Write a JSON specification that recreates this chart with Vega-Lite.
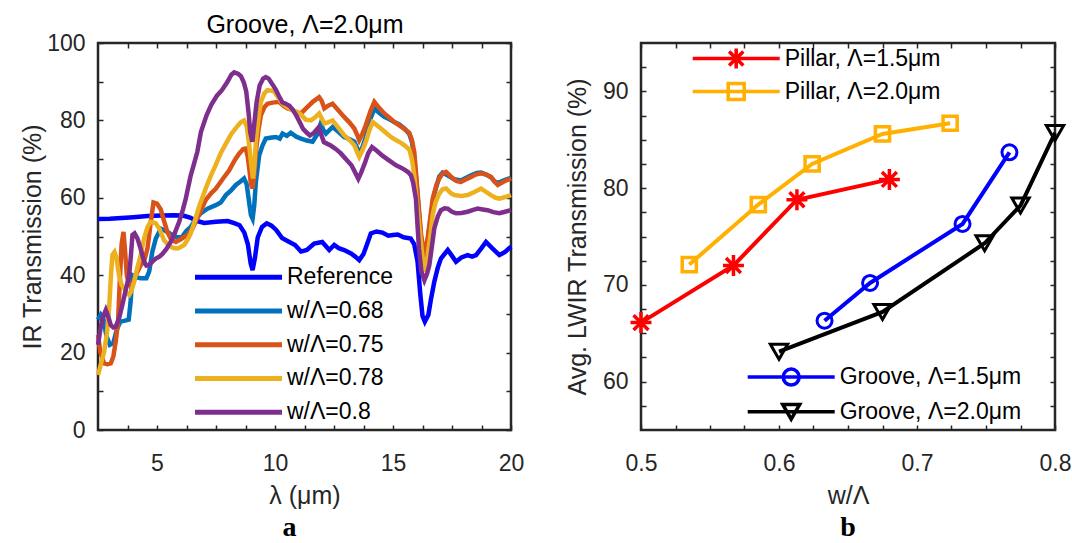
{
  "$schema": "https://vega.github.io/schema/vega-lite/v6.json",
  "padding": {"left": 19, "top": 11, "right": 5, "bottom": 5},
  "background": "white",
  "datasets": {
    "spectra": [
      {"x":2.5,"y":54.5,"s":"Reference"},{"x":3.0,"y":54.6,"s":"Reference"},{"x":3.5,"y":54.8,"s":"Reference"},{"x":4.0,"y":55.0,"s":"Reference"},{"x":4.6,"y":55.3,"s":"Reference"},{"x":5.2,"y":55.4,"s":"Reference"},{"x":5.7,"y":55.5,"s":"Reference"},{"x":6.1,"y":55.4,"s":"Reference"},{"x":6.4,"y":54.9,"s":"Reference"},{"x":6.7,"y":54.0,"s":"Reference"},{"x":7.0,"y":53.5,"s":"Reference"},{"x":7.5,"y":53.8,"s":"Reference"},{"x":8.0,"y":54.0,"s":"Reference"},{"x":8.3,"y":53.4,"s":"Reference"},{"x":8.5,"y":52.9,"s":"Reference"},{"x":8.7,"y":51.0,"s":"Reference"},{"x":8.85,"y":48.0,"s":"Reference"},{"x":8.97,"y":43.0,"s":"Reference"},{"x":9.05,"y":41.3,"s":"Reference"},{"x":9.15,"y":44.5,"s":"Reference"},{"x":9.27,"y":49.8,"s":"Reference"},{"x":9.45,"y":52.5,"s":"Reference"},{"x":9.65,"y":53.4,"s":"Reference"},{"x":9.85,"y":52.8,"s":"Reference"},{"x":10.05,"y":51.7,"s":"Reference"},{"x":10.3,"y":49.6,"s":"Reference"},{"x":10.55,"y":48.8,"s":"Reference"},{"x":10.85,"y":47.8,"s":"Reference"},{"x":11.1,"y":46.1,"s":"Reference"},{"x":11.35,"y":46.5,"s":"Reference"},{"x":11.66,"y":48.2,"s":"Reference"},{"x":12.0,"y":48.6,"s":"Reference"},{"x":12.3,"y":46.5,"s":"Reference"},{"x":12.51,"y":47.8,"s":"Reference"},{"x":12.7,"y":47.0,"s":"Reference"},{"x":12.93,"y":46.5,"s":"Reference"},{"x":13.22,"y":45.6,"s":"Reference"},{"x":13.4,"y":44.8,"s":"Reference"},{"x":13.57,"y":43.9,"s":"Reference"},{"x":13.75,"y":45.5,"s":"Reference"},{"x":13.9,"y":48.0,"s":"Reference"},{"x":14.06,"y":50.8,"s":"Reference"},{"x":14.3,"y":51.3,"s":"Reference"},{"x":14.55,"y":51.0,"s":"Reference"},{"x":14.8,"y":50.2,"s":"Reference"},{"x":15.0,"y":50.4,"s":"Reference"},{"x":15.2,"y":50.5,"s":"Reference"},{"x":15.45,"y":49.8,"s":"Reference"},{"x":15.75,"y":49.5,"s":"Reference"},{"x":15.9,"y":48.0,"s":"Reference"},{"x":16.04,"y":43.5,"s":"Reference"},{"x":16.16,"y":34.9,"s":"Reference"},{"x":16.25,"y":29.5,"s":"Reference"},{"x":16.35,"y":28.0,"s":"Reference"},{"x":16.5,"y":29.8,"s":"Reference"},{"x":16.6,"y":33.5,"s":"Reference"},{"x":16.75,"y":38.3,"s":"Reference"},{"x":16.9,"y":42.0,"s":"Reference"},{"x":17.03,"y":44.3,"s":"Reference"},{"x":17.32,"y":46.5,"s":"Reference"},{"x":17.5,"y":45.0,"s":"Reference"},{"x":17.67,"y":43.5,"s":"Reference"},{"x":17.9,"y":44.6,"s":"Reference"},{"x":18.16,"y":45.2,"s":"Reference"},{"x":18.35,"y":44.8,"s":"Reference"},{"x":18.52,"y":45.2,"s":"Reference"},{"x":18.75,"y":47.0,"s":"Reference"},{"x":18.94,"y":48.6,"s":"Reference"},{"x":19.2,"y":47.0,"s":"Reference"},{"x":19.51,"y":45.2,"s":"Reference"},{"x":19.75,"y":46.0,"s":"Reference"},{"x":20.0,"y":47.4,"s":"Reference"},

      {"x":2.5,"y":28.5,"s":"w/Λ=0.68"},{"x":2.62,"y":29.8,"s":"w/Λ=0.68"},{"x":2.72,"y":29.0,"s":"w/Λ=0.68"},{"x":2.85,"y":24.5,"s":"w/Λ=0.68"},{"x":3.0,"y":22.0,"s":"w/Λ=0.68"},{"x":3.15,"y":22.5,"s":"w/Λ=0.68"},{"x":3.3,"y":26.0,"s":"w/Λ=0.68"},{"x":3.45,"y":28.0,"s":"w/Λ=0.68"},{"x":3.6,"y":28.2,"s":"w/Λ=0.68"},{"x":3.8,"y":28.5,"s":"w/Λ=0.68"},{"x":3.88,"y":33.0,"s":"w/Λ=0.68"},{"x":3.96,"y":40.0,"s":"w/Λ=0.68"},{"x":4.1,"y":39.5,"s":"w/Λ=0.68"},{"x":4.3,"y":39.2,"s":"w/Λ=0.68"},{"x":4.55,"y":39.2,"s":"w/Λ=0.68"},{"x":4.67,"y":41.0,"s":"w/Λ=0.68"},{"x":4.8,"y":46.0,"s":"w/Λ=0.68"},{"x":4.95,"y":49.5,"s":"w/Λ=0.68"},{"x":5.16,"y":52.0,"s":"w/Λ=0.68"},{"x":5.35,"y":51.5,"s":"w/Λ=0.68"},{"x":5.6,"y":50.6,"s":"w/Λ=0.68"},{"x":5.85,"y":49.8,"s":"w/Λ=0.68"},{"x":6.05,"y":49.8,"s":"w/Λ=0.68"},{"x":6.25,"y":51.5,"s":"w/Λ=0.68"},{"x":6.43,"y":52.5,"s":"w/Λ=0.68"},{"x":6.65,"y":54.5,"s":"w/Λ=0.68"},{"x":6.85,"y":56.0,"s":"w/Λ=0.68"},{"x":7.14,"y":57.2,"s":"w/Λ=0.68"},{"x":7.49,"y":58.1,"s":"w/Λ=0.68"},{"x":7.7,"y":58.8,"s":"w/Λ=0.68"},{"x":7.92,"y":60.7,"s":"w/Λ=0.68"},{"x":8.15,"y":62.0,"s":"w/Λ=0.68"},{"x":8.34,"y":63.3,"s":"w/Λ=0.68"},{"x":8.54,"y":64.2,"s":"w/Λ=0.68"},{"x":8.69,"y":65.0,"s":"w/Λ=0.68"},{"x":8.8,"y":63.5,"s":"w/Λ=0.68"},{"x":8.9,"y":59.0,"s":"w/Λ=0.68"},{"x":8.98,"y":55.5,"s":"w/Λ=0.68"},{"x":9.05,"y":54.6,"s":"w/Λ=0.68"},{"x":9.12,"y":58.0,"s":"w/Λ=0.68"},{"x":9.19,"y":64.1,"s":"w/Λ=0.68"},{"x":9.33,"y":71.0,"s":"w/Λ=0.68"},{"x":9.47,"y":73.5,"s":"w/Λ=0.68"},{"x":9.61,"y":75.3,"s":"w/Λ=0.68"},{"x":9.8,"y":75.5,"s":"w/Λ=0.68"},{"x":10.04,"y":75.7,"s":"w/Λ=0.68"},{"x":10.2,"y":75.3,"s":"w/Λ=0.68"},{"x":10.32,"y":76.6,"s":"w/Λ=0.68"},{"x":10.5,"y":76.0,"s":"w/Λ=0.68"},{"x":10.67,"y":76.8,"s":"w/Λ=0.68"},{"x":10.9,"y":75.8,"s":"w/Λ=0.68"},{"x":11.1,"y":75.3,"s":"w/Λ=0.68"},{"x":11.35,"y":74.8,"s":"w/Λ=0.68"},{"x":11.59,"y":74.5,"s":"w/Λ=0.68"},{"x":11.8,"y":76.5,"s":"w/Λ=0.68"},{"x":11.94,"y":79.2,"s":"w/Λ=0.68"},{"x":12.05,"y":77.5,"s":"w/Λ=0.68"},{"x":12.16,"y":76.6,"s":"w/Λ=0.68"},{"x":12.44,"y":78.3,"s":"w/Λ=0.68"},{"x":12.7,"y":77.0,"s":"w/Λ=0.68"},{"x":12.93,"y":75.7,"s":"w/Λ=0.68"},{"x":13.15,"y":75.2,"s":"w/Λ=0.68"},{"x":13.36,"y":74.5,"s":"w/Λ=0.68"},{"x":13.5,"y":72.5,"s":"w/Λ=0.68"},{"x":13.57,"y":71.4,"s":"w/Λ=0.68"},{"x":13.7,"y":73.0,"s":"w/Λ=0.68"},{"x":13.85,"y":75.7,"s":"w/Λ=0.68"},{"x":14.05,"y":80.5,"s":"w/Λ=0.68"},{"x":14.21,"y":83.1,"s":"w/Λ=0.68"},{"x":14.4,"y":82.0,"s":"w/Λ=0.68"},{"x":14.63,"y":80.9,"s":"w/Λ=0.68"},{"x":14.85,"y":80.3,"s":"w/Λ=0.68"},{"x":15.05,"y":79.6,"s":"w/Λ=0.68"},{"x":15.25,"y":79.0,"s":"w/Λ=0.68"},{"x":15.48,"y":77.9,"s":"w/Λ=0.68"},{"x":15.69,"y":76.5,"s":"w/Λ=0.68"},{"x":15.8,"y":74.5,"s":"w/Λ=0.68"},{"x":15.9,"y":70.5,"s":"w/Λ=0.68"},{"x":16.04,"y":60.5,"s":"w/Λ=0.68"},{"x":16.19,"y":49.5,"s":"w/Λ=0.68"},{"x":16.33,"y":44.3,"s":"w/Λ=0.68"},{"x":16.47,"y":49.0,"s":"w/Λ=0.68"},{"x":16.6,"y":55.0,"s":"w/Λ=0.68"},{"x":16.75,"y":61.0,"s":"w/Λ=0.68"},{"x":16.96,"y":65.5,"s":"w/Λ=0.68"},{"x":17.1,"y":66.5,"s":"w/Λ=0.68"},{"x":17.25,"y":66.0,"s":"w/Λ=0.68"},{"x":17.45,"y":65.3,"s":"w/Λ=0.68"},{"x":17.6,"y":64.8,"s":"w/Λ=0.68"},{"x":17.88,"y":64.5,"s":"w/Λ=0.68"},{"x":18.1,"y":65.2,"s":"w/Λ=0.68"},{"x":18.31,"y":65.8,"s":"w/Λ=0.68"},{"x":18.55,"y":66.4,"s":"w/Λ=0.68"},{"x":18.73,"y":66.5,"s":"w/Λ=0.68"},{"x":18.95,"y":66.0,"s":"w/Λ=0.68"},{"x":19.15,"y":65.3,"s":"w/Λ=0.68"},{"x":19.3,"y":64.3,"s":"w/Λ=0.68"},{"x":19.44,"y":63.8,"s":"w/Λ=0.68"},{"x":19.7,"y":64.5,"s":"w/Λ=0.68"},{"x":20.0,"y":65.2,"s":"w/Λ=0.68"},

      {"x":2.5,"y":24.6,"s":"w/Λ=0.75"},{"x":2.6,"y":20.0,"s":"w/Λ=0.75"},{"x":2.76,"y":17.2,"s":"w/Λ=0.75"},{"x":2.9,"y":17.0,"s":"w/Λ=0.75"},{"x":3.04,"y":17.2,"s":"w/Λ=0.75"},{"x":3.15,"y":19.0,"s":"w/Λ=0.75"},{"x":3.25,"y":22.8,"s":"w/Λ=0.75"},{"x":3.35,"y":28.0,"s":"w/Λ=0.75"},{"x":3.42,"y":38.0,"s":"w/Λ=0.75"},{"x":3.5,"y":48.0,"s":"w/Λ=0.75"},{"x":3.58,"y":51.2,"s":"w/Λ=0.75"},{"x":3.65,"y":46.0,"s":"w/Λ=0.75"},{"x":3.72,"y":40.0,"s":"w/Λ=0.75"},{"x":3.82,"y":37.5,"s":"w/Λ=0.75"},{"x":3.95,"y":37.0,"s":"w/Λ=0.75"},{"x":4.1,"y":40.0,"s":"w/Λ=0.75"},{"x":4.3,"y":42.5,"s":"w/Λ=0.75"},{"x":4.45,"y":43.5,"s":"w/Λ=0.75"},{"x":4.6,"y":47.0,"s":"w/Λ=0.75"},{"x":4.72,"y":53.0,"s":"w/Λ=0.75"},{"x":4.85,"y":58.8,"s":"w/Λ=0.75"},{"x":5.0,"y":58.5,"s":"w/Λ=0.75"},{"x":5.16,"y":57.0,"s":"w/Λ=0.75"},{"x":5.3,"y":54.0,"s":"w/Λ=0.75"},{"x":5.44,"y":51.2,"s":"w/Λ=0.75"},{"x":5.6,"y":49.2,"s":"w/Λ=0.75"},{"x":5.8,"y":48.6,"s":"w/Λ=0.75"},{"x":6.0,"y":49.3,"s":"w/Λ=0.75"},{"x":6.29,"y":50.4,"s":"w/Λ=0.75"},{"x":6.5,"y":52.0,"s":"w/Λ=0.75"},{"x":6.8,"y":56.0,"s":"w/Λ=0.75"},{"x":7.07,"y":59.5,"s":"w/Λ=0.75"},{"x":7.3,"y":61.2,"s":"w/Λ=0.75"},{"x":7.49,"y":62.3,"s":"w/Λ=0.75"},{"x":7.8,"y":65.0,"s":"w/Λ=0.75"},{"x":8.06,"y":67.1,"s":"w/Λ=0.75"},{"x":8.3,"y":69.8,"s":"w/Λ=0.75"},{"x":8.48,"y":71.4,"s":"w/Λ=0.75"},{"x":8.65,"y":72.6,"s":"w/Λ=0.75"},{"x":8.76,"y":72.7,"s":"w/Λ=0.75"},{"x":8.85,"y":70.5,"s":"w/Λ=0.75"},{"x":8.92,"y":67.0,"s":"w/Λ=0.75"},{"x":8.98,"y":63.5,"s":"w/Λ=0.75"},{"x":9.05,"y":62.4,"s":"w/Λ=0.75"},{"x":9.12,"y":66.0,"s":"w/Λ=0.75"},{"x":9.19,"y":71.9,"s":"w/Λ=0.75"},{"x":9.3,"y":77.5,"s":"w/Λ=0.75"},{"x":9.4,"y":81.3,"s":"w/Λ=0.75"},{"x":9.55,"y":83.4,"s":"w/Λ=0.75"},{"x":9.68,"y":84.3,"s":"w/Λ=0.75"},{"x":9.9,"y":84.6,"s":"w/Λ=0.75"},{"x":10.18,"y":84.8,"s":"w/Λ=0.75"},{"x":10.35,"y":83.8,"s":"w/Λ=0.75"},{"x":10.53,"y":83.1,"s":"w/Λ=0.75"},{"x":10.7,"y":82.8,"s":"w/Λ=0.75"},{"x":10.88,"y":82.2,"s":"w/Λ=0.75"},{"x":11.1,"y":81.8,"s":"w/Λ=0.75"},{"x":11.38,"y":83.5,"s":"w/Λ=0.75"},{"x":11.6,"y":84.8,"s":"w/Λ=0.75"},{"x":11.87,"y":86.0,"s":"w/Λ=0.75"},{"x":11.98,"y":85.0,"s":"w/Λ=0.75"},{"x":12.09,"y":83.1,"s":"w/Λ=0.75"},{"x":12.25,"y":83.8,"s":"w/Λ=0.75"},{"x":12.44,"y":84.3,"s":"w/Λ=0.75"},{"x":12.7,"y":82.5,"s":"w/Λ=0.75"},{"x":12.93,"y":80.9,"s":"w/Λ=0.75"},{"x":13.15,"y":79.5,"s":"w/Λ=0.75"},{"x":13.36,"y":77.9,"s":"w/Λ=0.75"},{"x":13.5,"y":76.0,"s":"w/Λ=0.75"},{"x":13.57,"y":74.9,"s":"w/Λ=0.75"},{"x":13.7,"y":76.5,"s":"w/Λ=0.75"},{"x":13.85,"y":78.8,"s":"w/Λ=0.75"},{"x":14.05,"y":82.5,"s":"w/Λ=0.75"},{"x":14.21,"y":84.8,"s":"w/Λ=0.75"},{"x":14.4,"y":83.3,"s":"w/Λ=0.75"},{"x":14.63,"y":81.8,"s":"w/Λ=0.75"},{"x":14.85,"y":80.7,"s":"w/Λ=0.75"},{"x":15.05,"y":79.6,"s":"w/Λ=0.75"},{"x":15.25,"y":78.8,"s":"w/Λ=0.75"},{"x":15.48,"y":77.8,"s":"w/Λ=0.75"},{"x":15.69,"y":76.8,"s":"w/Λ=0.75"},{"x":15.8,"y":75.0,"s":"w/Λ=0.75"},{"x":15.9,"y":71.9,"s":"w/Λ=0.75"},{"x":16.04,"y":61.6,"s":"w/Λ=0.75"},{"x":16.19,"y":50.4,"s":"w/Λ=0.75"},{"x":16.33,"y":45.2,"s":"w/Λ=0.75"},{"x":16.47,"y":49.5,"s":"w/Λ=0.75"},{"x":16.68,"y":59.8,"s":"w/Λ=0.75"},{"x":16.85,"y":63.5,"s":"w/Λ=0.75"},{"x":16.96,"y":65.0,"s":"w/Λ=0.75"},{"x":17.1,"y":66.3,"s":"w/Λ=0.75"},{"x":17.25,"y":66.7,"s":"w/Λ=0.75"},{"x":17.4,"y":65.8,"s":"w/Λ=0.75"},{"x":17.53,"y":65.0,"s":"w/Λ=0.75"},{"x":17.7,"y":64.3,"s":"w/Λ=0.75"},{"x":17.88,"y":64.1,"s":"w/Λ=0.75"},{"x":18.1,"y":64.8,"s":"w/Λ=0.75"},{"x":18.31,"y":65.4,"s":"w/Λ=0.75"},{"x":18.5,"y":66.0,"s":"w/Λ=0.75"},{"x":18.73,"y":66.3,"s":"w/Λ=0.75"},{"x":18.95,"y":66.0,"s":"w/Λ=0.75"},{"x":19.15,"y":65.4,"s":"w/Λ=0.75"},{"x":19.3,"y":64.2,"s":"w/Λ=0.75"},{"x":19.44,"y":63.3,"s":"w/Λ=0.75"},{"x":19.7,"y":64.2,"s":"w/Λ=0.75"},{"x":20.0,"y":65.0,"s":"w/Λ=0.75"},

      {"x":2.5,"y":14.2,"s":"w/Λ=0.78"},{"x":2.62,"y":17.0,"s":"w/Λ=0.78"},{"x":2.76,"y":20.2,"s":"w/Λ=0.78"},{"x":2.88,"y":25.0,"s":"w/Λ=0.78"},{"x":2.97,"y":31.4,"s":"w/Λ=0.78"},{"x":3.05,"y":40.0,"s":"w/Λ=0.78"},{"x":3.11,"y":45.2,"s":"w/Λ=0.78"},{"x":3.2,"y":46.0,"s":"w/Λ=0.78"},{"x":3.28,"y":44.5,"s":"w/Λ=0.78"},{"x":3.39,"y":40.0,"s":"w/Λ=0.78"},{"x":3.5,"y":37.5,"s":"w/Λ=0.78"},{"x":3.6,"y":36.6,"s":"w/Λ=0.78"},{"x":3.75,"y":35.2,"s":"w/Λ=0.78"},{"x":3.82,"y":34.9,"s":"w/Λ=0.78"},{"x":3.92,"y":36.0,"s":"w/Λ=0.78"},{"x":4.03,"y":38.3,"s":"w/Λ=0.78"},{"x":4.17,"y":42.0,"s":"w/Λ=0.78"},{"x":4.31,"y":45.2,"s":"w/Λ=0.78"},{"x":4.45,"y":49.5,"s":"w/Λ=0.78"},{"x":4.6,"y":52.5,"s":"w/Λ=0.78"},{"x":4.73,"y":53.8,"s":"w/Λ=0.78"},{"x":4.87,"y":53.6,"s":"w/Λ=0.78"},{"x":4.95,"y":53.4,"s":"w/Λ=0.78"},{"x":5.1,"y":52.0,"s":"w/Λ=0.78"},{"x":5.3,"y":49.0,"s":"w/Λ=0.78"},{"x":5.51,"y":47.6,"s":"w/Λ=0.78"},{"x":5.7,"y":47.0,"s":"w/Λ=0.78"},{"x":5.87,"y":46.9,"s":"w/Λ=0.78"},{"x":6.0,"y":47.3,"s":"w/Λ=0.78"},{"x":6.15,"y":47.8,"s":"w/Λ=0.78"},{"x":6.3,"y":49.2,"s":"w/Λ=0.78"},{"x":6.43,"y":50.8,"s":"w/Λ=0.78"},{"x":6.6,"y":54.0,"s":"w/Λ=0.78"},{"x":6.8,"y":58.0,"s":"w/Λ=0.78"},{"x":7.07,"y":62.5,"s":"w/Λ=0.78"},{"x":7.3,"y":66.0,"s":"w/Λ=0.78"},{"x":7.49,"y":68.5,"s":"w/Λ=0.78"},{"x":7.7,"y":71.5,"s":"w/Λ=0.78"},{"x":7.92,"y":74.0,"s":"w/Λ=0.78"},{"x":8.15,"y":76.5,"s":"w/Λ=0.78"},{"x":8.34,"y":78.0,"s":"w/Λ=0.78"},{"x":8.55,"y":79.5,"s":"w/Λ=0.78"},{"x":8.69,"y":80.0,"s":"w/Λ=0.78"},{"x":8.8,"y":78.5,"s":"w/Λ=0.78"},{"x":8.9,"y":74.0,"s":"w/Λ=0.78"},{"x":8.98,"y":69.3,"s":"w/Λ=0.78"},{"x":9.07,"y":65.0,"s":"w/Λ=0.78"},{"x":9.13,"y":68.5,"s":"w/Λ=0.78"},{"x":9.19,"y":74.5,"s":"w/Λ=0.78"},{"x":9.3,"y":80.5,"s":"w/Λ=0.78"},{"x":9.4,"y":84.8,"s":"w/Λ=0.78"},{"x":9.55,"y":87.0,"s":"w/Λ=0.78"},{"x":9.68,"y":87.8,"s":"w/Λ=0.78"},{"x":9.85,"y":87.7,"s":"w/Λ=0.78"},{"x":9.97,"y":87.4,"s":"w/Λ=0.78"},{"x":10.15,"y":85.8,"s":"w/Λ=0.78"},{"x":10.32,"y":84.3,"s":"w/Λ=0.78"},{"x":10.5,"y":83.5,"s":"w/Λ=0.78"},{"x":10.74,"y":82.6,"s":"w/Λ=0.78"},{"x":10.9,"y":82.3,"s":"w/Λ=0.78"},{"x":11.1,"y":81.5,"s":"w/Λ=0.78"},{"x":11.3,"y":80.2,"s":"w/Λ=0.78"},{"x":11.52,"y":80.0,"s":"w/Λ=0.78"},{"x":11.7,"y":80.8,"s":"w/Λ=0.78"},{"x":11.87,"y":81.8,"s":"w/Λ=0.78"},{"x":11.98,"y":80.5,"s":"w/Λ=0.78"},{"x":12.09,"y":79.2,"s":"w/Λ=0.78"},{"x":12.25,"y":79.5,"s":"w/Λ=0.78"},{"x":12.44,"y":80.0,"s":"w/Λ=0.78"},{"x":12.7,"y":78.0,"s":"w/Λ=0.78"},{"x":12.93,"y":76.2,"s":"w/Λ=0.78"},{"x":13.15,"y":75.0,"s":"w/Λ=0.78"},{"x":13.36,"y":73.6,"s":"w/Λ=0.78"},{"x":13.5,"y":71.5,"s":"w/Λ=0.78"},{"x":13.57,"y":70.6,"s":"w/Λ=0.78"},{"x":13.7,"y":72.2,"s":"w/Λ=0.78"},{"x":13.85,"y":74.5,"s":"w/Λ=0.78"},{"x":14.0,"y":77.5,"s":"w/Λ=0.78"},{"x":14.14,"y":79.6,"s":"w/Λ=0.78"},{"x":14.3,"y":78.8,"s":"w/Λ=0.78"},{"x":14.49,"y":77.9,"s":"w/Λ=0.78"},{"x":14.7,"y":76.8,"s":"w/Λ=0.78"},{"x":14.91,"y":75.7,"s":"w/Λ=0.78"},{"x":15.1,"y":75.0,"s":"w/Λ=0.78"},{"x":15.34,"y":74.2,"s":"w/Λ=0.78"},{"x":15.5,"y":73.5,"s":"w/Λ=0.78"},{"x":15.69,"y":72.5,"s":"w/Λ=0.78"},{"x":15.8,"y":70.0,"s":"w/Λ=0.78"},{"x":15.9,"y":65.9,"s":"w/Λ=0.78"},{"x":16.07,"y":55.5,"s":"w/Λ=0.78"},{"x":16.2,"y":47.5,"s":"w/Λ=0.78"},{"x":16.33,"y":40.9,"s":"w/Λ=0.78"},{"x":16.47,"y":45.2,"s":"w/Λ=0.78"},{"x":16.6,"y":51.0,"s":"w/Λ=0.78"},{"x":16.68,"y":55.5,"s":"w/Λ=0.78"},{"x":16.8,"y":58.8,"s":"w/Λ=0.78"},{"x":16.96,"y":61.1,"s":"w/Λ=0.78"},{"x":17.1,"y":62.2,"s":"w/Λ=0.78"},{"x":17.25,"y":62.4,"s":"w/Λ=0.78"},{"x":17.45,"y":61.2,"s":"w/Λ=0.78"},{"x":17.6,"y":60.7,"s":"w/Λ=0.78"},{"x":17.9,"y":60.5,"s":"w/Λ=0.78"},{"x":18.16,"y":60.7,"s":"w/Λ=0.78"},{"x":18.45,"y":61.5,"s":"w/Λ=0.78"},{"x":18.73,"y":62.4,"s":"w/Λ=0.78"},{"x":18.95,"y":61.5,"s":"w/Λ=0.78"},{"x":19.15,"y":60.7,"s":"w/Λ=0.78"},{"x":19.35,"y":60.0,"s":"w/Λ=0.78"},{"x":19.51,"y":59.8,"s":"w/Λ=0.78"},{"x":19.75,"y":60.2,"s":"w/Λ=0.78"},{"x":20.0,"y":60.7,"s":"w/Λ=0.78"},

      {"x":2.5,"y":22.0,"s":"w/Λ=0.8"},{"x":2.6,"y":26.0,"s":"w/Λ=0.8"},{"x":2.69,"y":28.9,"s":"w/Λ=0.8"},{"x":2.83,"y":31.0,"s":"w/Λ=0.8"},{"x":2.95,"y":29.0,"s":"w/Λ=0.8"},{"x":3.04,"y":27.1,"s":"w/Λ=0.8"},{"x":3.15,"y":26.5,"s":"w/Λ=0.8"},{"x":3.25,"y":26.7,"s":"w/Λ=0.8"},{"x":3.4,"y":29.0,"s":"w/Λ=0.8"},{"x":3.53,"y":32.3,"s":"w/Λ=0.8"},{"x":3.65,"y":35.5,"s":"w/Λ=0.8"},{"x":3.82,"y":40.0,"s":"w/Λ=0.8"},{"x":3.9,"y":45.5,"s":"w/Λ=0.8"},{"x":3.96,"y":50.4,"s":"w/Λ=0.8"},{"x":4.05,"y":50.8,"s":"w/Λ=0.8"},{"x":4.17,"y":49.5,"s":"w/Λ=0.8"},{"x":4.3,"y":47.0,"s":"w/Λ=0.8"},{"x":4.45,"y":43.5,"s":"w/Λ=0.8"},{"x":4.55,"y":42.5,"s":"w/Λ=0.8"},{"x":4.66,"y":42.6,"s":"w/Λ=0.8"},{"x":4.8,"y":43.5,"s":"w/Λ=0.8"},{"x":4.95,"y":44.3,"s":"w/Λ=0.8"},{"x":5.1,"y":44.8,"s":"w/Λ=0.8"},{"x":5.23,"y":45.5,"s":"w/Λ=0.8"},{"x":5.4,"y":46.8,"s":"w/Λ=0.8"},{"x":5.58,"y":48.6,"s":"w/Λ=0.8"},{"x":5.76,"y":51.0,"s":"w/Λ=0.8"},{"x":5.94,"y":53.8,"s":"w/Λ=0.8"},{"x":6.1,"y":57.0,"s":"w/Λ=0.8"},{"x":6.22,"y":59.8,"s":"w/Λ=0.8"},{"x":6.43,"y":65.8,"s":"w/Λ=0.8"},{"x":6.6,"y":69.5,"s":"w/Λ=0.8"},{"x":6.71,"y":71.9,"s":"w/Λ=0.8"},{"x":6.86,"y":77.0,"s":"w/Λ=0.8"},{"x":7.1,"y":81.3,"s":"w/Λ=0.8"},{"x":7.3,"y":84.0,"s":"w/Λ=0.8"},{"x":7.54,"y":86.4,"s":"w/Λ=0.8"},{"x":7.75,"y":87.8,"s":"w/Λ=0.8"},{"x":7.98,"y":89.9,"s":"w/Λ=0.8"},{"x":8.15,"y":91.8,"s":"w/Λ=0.8"},{"x":8.27,"y":92.4,"s":"w/Λ=0.8"},{"x":8.45,"y":92.0,"s":"w/Λ=0.8"},{"x":8.56,"y":91.4,"s":"w/Λ=0.8"},{"x":8.68,"y":89.8,"s":"w/Λ=0.8"},{"x":8.78,"y":87.5,"s":"w/Λ=0.8"},{"x":8.88,"y":82.0,"s":"w/Λ=0.8"},{"x":8.95,"y":77.0,"s":"w/Λ=0.8"},{"x":9.04,"y":74.5,"s":"w/Λ=0.8"},{"x":9.12,"y":79.0,"s":"w/Λ=0.8"},{"x":9.22,"y":84.7,"s":"w/Λ=0.8"},{"x":9.35,"y":89.0,"s":"w/Λ=0.8"},{"x":9.5,"y":90.8,"s":"w/Λ=0.8"},{"x":9.61,"y":91.2,"s":"w/Λ=0.8"},{"x":9.73,"y":90.8,"s":"w/Λ=0.8"},{"x":9.87,"y":89.5,"s":"w/Λ=0.8"},{"x":10.02,"y":88.1,"s":"w/Λ=0.8"},{"x":10.15,"y":86.5,"s":"w/Λ=0.8"},{"x":10.31,"y":84.7,"s":"w/Λ=0.8"},{"x":10.45,"y":84.3,"s":"w/Λ=0.8"},{"x":10.61,"y":83.8,"s":"w/Λ=0.8"},{"x":10.75,"y":82.8,"s":"w/Λ=0.8"},{"x":10.9,"y":81.3,"s":"w/Λ=0.8"},{"x":11.05,"y":79.5,"s":"w/Λ=0.8"},{"x":11.19,"y":77.8,"s":"w/Λ=0.8"},{"x":11.35,"y":76.8,"s":"w/Λ=0.8"},{"x":11.48,"y":76.1,"s":"w/Λ=0.8"},{"x":11.65,"y":76.8,"s":"w/Λ=0.8"},{"x":11.85,"y":78.2,"s":"w/Λ=0.8"},{"x":11.95,"y":76.5,"s":"w/Λ=0.8"},{"x":12.07,"y":74.4,"s":"w/Λ=0.8"},{"x":12.2,"y":74.0,"s":"w/Λ=0.8"},{"x":12.36,"y":73.5,"s":"w/Λ=0.8"},{"x":12.6,"y":72.5,"s":"w/Λ=0.8"},{"x":12.8,"y":71.4,"s":"w/Λ=0.8"},{"x":13.0,"y":70.0,"s":"w/Λ=0.8"},{"x":13.24,"y":68.4,"s":"w/Λ=0.8"},{"x":13.4,"y":66.5,"s":"w/Λ=0.8"},{"x":13.53,"y":64.9,"s":"w/Λ=0.8"},{"x":13.65,"y":66.5,"s":"w/Λ=0.8"},{"x":13.82,"y":69.2,"s":"w/Λ=0.8"},{"x":13.95,"y":71.5,"s":"w/Λ=0.8"},{"x":14.11,"y":73.1,"s":"w/Λ=0.8"},{"x":14.3,"y":72.2,"s":"w/Λ=0.8"},{"x":14.55,"y":70.9,"s":"w/Λ=0.8"},{"x":14.8,"y":69.8,"s":"w/Λ=0.8"},{"x":15.13,"y":68.4,"s":"w/Λ=0.8"},{"x":15.34,"y":67.8,"s":"w/Λ=0.8"},{"x":15.5,"y":67.2,"s":"w/Λ=0.8"},{"x":15.65,"y":66.6,"s":"w/Λ=0.8"},{"x":15.76,"y":65.8,"s":"w/Λ=0.8"},{"x":15.85,"y":64.0,"s":"w/Λ=0.8"},{"x":15.97,"y":59.8,"s":"w/Λ=0.8"},{"x":16.1,"y":46.9,"s":"w/Λ=0.8"},{"x":16.2,"y":41.0,"s":"w/Λ=0.8"},{"x":16.33,"y":38.7,"s":"w/Λ=0.8"},{"x":16.45,"y":40.5,"s":"w/Λ=0.8"},{"x":16.54,"y":42.6,"s":"w/Λ=0.8"},{"x":16.65,"y":47.5,"s":"w/Λ=0.8"},{"x":16.75,"y":52.1,"s":"w/Λ=0.8"},{"x":16.9,"y":55.2,"s":"w/Λ=0.8"},{"x":17.03,"y":56.8,"s":"w/Λ=0.8"},{"x":17.18,"y":57.3,"s":"w/Λ=0.8"},{"x":17.32,"y":57.2,"s":"w/Λ=0.8"},{"x":17.5,"y":56.4,"s":"w/Λ=0.8"},{"x":17.67,"y":56.0,"s":"w/Λ=0.8"},{"x":17.9,"y":56.1,"s":"w/Λ=0.8"},{"x":18.16,"y":56.4,"s":"w/Λ=0.8"},{"x":18.4,"y":56.9,"s":"w/Λ=0.8"},{"x":18.59,"y":57.2,"s":"w/Λ=0.8"},{"x":18.8,"y":57.0,"s":"w/Λ=0.8"},{"x":19.01,"y":56.8,"s":"w/Λ=0.8"},{"x":19.25,"y":56.3,"s":"w/Λ=0.8"},{"x":19.51,"y":56.0,"s":"w/Λ=0.8"},{"x":19.75,"y":56.4,"s":"w/Λ=0.8"},{"x":20.0,"y":56.8,"s":"w/Λ=0.8"}
    ],
    "avg": [
      {"w":0.5,"t":66.1,"s":"Pillar, Λ=1.5μm","g":"Pillar"},
      {"w":0.567,"t":72.0,"s":"Pillar, Λ=1.5μm","g":"Pillar"},
      {"w":0.613,"t":78.8,"s":"Pillar, Λ=1.5μm","g":"Pillar"},
      {"w":0.68,"t":80.9,"s":"Pillar, Λ=1.5μm","g":"Pillar"},
      {"w":0.535,"t":72.1,"s":"Pillar, Λ=2.0μm","g":"Pillar"},
      {"w":0.585,"t":78.3,"s":"Pillar, Λ=2.0μm","g":"Pillar"},
      {"w":0.624,"t":82.5,"s":"Pillar, Λ=2.0μm","g":"Pillar"},
      {"w":0.675,"t":85.6,"s":"Pillar, Λ=2.0μm","g":"Pillar"},
      {"w":0.724,"t":86.7,"s":"Pillar, Λ=2.0μm","g":"Pillar"},
      {"w":0.633,"t":66.3,"s":"Groove, Λ=1.5μm","g":"Groove"},
      {"w":0.666,"t":70.2,"s":"Groove, Λ=1.5μm","g":"Groove"},
      {"w":0.733,"t":76.3,"s":"Groove, Λ=1.5μm","g":"Groove"},
      {"w":0.767,"t":83.7,"s":"Groove, Λ=1.5μm","g":"Groove"},
      {"w":0.6,"t":63.1,"s":"Groove, Λ=2.0μm","g":"Groove"},
      {"w":0.675,"t":67.2,"s":"Groove, Λ=2.0μm","g":"Groove"},
      {"w":0.749,"t":74.3,"s":"Groove, Λ=2.0μm","g":"Groove"},
      {"w":0.775,"t":78.2,"s":"Groove, Λ=2.0μm","g":"Groove"},
      {"w":0.8,"t":85.7,"s":"Groove, Λ=2.0μm","g":"Groove"}
    ]
  },
  "hconcat": [
    {
      "width": 413,
      "height": 387,
      "title": {"text": "a", "orient": "bottom", "font": "Liberation Serif", "fontSize": 28, "fontWeight": "bold", "color": "#000000", "frame": "group", "anchor": "middle", "offset": 6, "dx": -15},
      "data": {"name": "spectra"},
      "layer": [
        {
          "mark": {"type": "line", "strokeWidth": 4.5},
          "encoding": {
            "x": {"field": "x", "type": "quantitative", "scale": {"domain": [2.5, 20], "nice": false, "zero": false},
                  "axis": {"orient": "bottom", "title": "λ (μm)", "values": [3.75,5,6.25,7.5,8.75,10,11.25,12.5,13.75,15,16.25,17.5,18.75,20], "labelExpr": "datum.value % 5 === 0 ? datum.label : ''", "labelPadding": 27, "titlePadding": 8}},
            "y": {"field": "y", "type": "quantitative", "scale": {"domain": [0, 100], "nice": false},
                  "axis": {"orient": "left", "title": "IR Transmission (%)", "values": [0,10,20,30,40,50,60,70,80,90,100], "labelExpr": "datum.value % 20 === 0 ? datum.label : ''", "labelPadding": 18, "titlePadding": 1}},
            "color": {"field": "s", "type": "nominal",
                      "scale": {"domain": ["Reference", "w/Λ=0.68", "w/Λ=0.75", "w/Λ=0.78", "w/Λ=0.8"], "range": ["#0000FF", "#0072BD", "#D95319", "#EDB120", "#7E2F8E"]},
                      "legend": {"orient": "none", "legendX": 97, "legendY": 221.7, "title": null, "symbolType": "M-1.25,0L7.45,0", "symbolSize": 400, "symbolStrokeWidth": 5, "symbolFillColor": "transparent", "rowPadding": 8.75, "labelOffset": 67, "padding": 0, "labelFontSize": 23, "labelFont": "Liberation Sans", "labelColor": "#000000", "labelLimit": 400}}
          }
        },
        {
          "mark": {"type": "line", "opacity": 0},
          "encoding": {
            "x": {"field": "x", "type": "quantitative", "scale": {"domain": [2.5, 20], "nice": false, "zero": false},
                  "axis": {"orient": "top", "title": "Groove, Λ=2.0μm", "titleColor": "#000000", "titleFontSize": 25, "labels": false, "values": [3.75,5,6.25,7.5,8.75,10,11.25,12.5,13.75,15,16.25,17.5,18.75,20], "titlePadding": 5}},
            "y": {"field": "y", "type": "quantitative", "scale": {"domain": [0, 100], "nice": false},
                  "axis": {"orient": "right", "title": null, "labels": false, "values": [0,10,20,30,40,50,60,70,80,90,100]}}
          }
        }
      ],
      "resolve": {"axis": {"x": "independent", "y": "independent"}}
    },
    {
      "width": 414,
      "height": 387,
      "title": {"text": "b", "orient": "bottom", "font": "Liberation Serif", "fontSize": 28, "fontWeight": "bold", "color": "#000000", "frame": "group", "anchor": "middle", "offset": 6},
      "data": {"name": "avg"},
      "layer": [
        {
          "transform": [{"filter": "datum.g === 'Pillar'"}],
          "mark": {"type": "line", "strokeWidth": 4},
          "encoding": {
            "x": {"field": "w", "type": "quantitative", "scale": {"domain": [0.5, 0.8], "nice": false, "zero": false},
                  "axis": {"orient": "bottom", "title": "w/Λ", "values": [0.5,0.525,0.55,0.575,0.6,0.625,0.65,0.675,0.7,0.725,0.75,0.775,0.8], "labelExpr": "abs(datum.value*10 - round(datum.value*10)) < 0.001 ? format(datum.value, '.1f') : ''", "labelPadding": 27, "titlePadding": 8}},
            "y": {"field": "t", "type": "quantitative", "scale": {"domain": [55, 95], "nice": false, "zero": false},
                  "axis": {"orient": "left", "title": "Avg. LWIR Transmission (%)", "values": [57.5,60,62.5,65,67.5,70,72.5,75,77.5,80,82.5,85,87.5,90,92.5], "labelExpr": "datum.value % 10 === 0 ? datum.label : ''", "labelPadding": 18, "titlePadding": 12}},
            "color": {"field": "s", "type": "nominal", "scale": {"domain": ["Pillar, Λ=1.5μm", "Pillar, Λ=2.0μm"], "range": ["#FF0000", "#FFB000"]}, "legend": null}
          }
        },
        {
          "transform": [{"filter": "datum.g === 'Groove'"}],
          "mark": {"type": "line", "strokeWidth": 4},
          "encoding": {
            "x": {"field": "w", "type": "quantitative", "scale": {"domain": [0.5, 0.8], "nice": false, "zero": false}, "axis": null},
            "y": {"field": "t", "type": "quantitative", "scale": {"domain": [55, 95], "nice": false, "zero": false}, "axis": null},
            "color": {"field": "s", "type": "nominal", "scale": {"domain": ["Groove, Λ=1.5μm", "Groove, Λ=2.0μm"], "range": ["#0000FF", "#000000"]}, "legend": null}
          }
        },
        {
          "transform": [{"filter": "datum.s === 'Pillar, Λ=1.5μm'"}],
          "mark": {"type": "point", "shape": "M0,-1L0,1M-1,0L1,0M-0.71,-0.71L0.71,0.71M-0.71,0.71L0.71,-0.71", "size": 440, "strokeWidth": 3.5, "filled": false, "color": "#FF0000", "opacity": 1},
          "encoding": {
            "x": {"field": "w", "type": "quantitative", "scale": {"domain": [0.5, 0.8], "nice": false, "zero": false}, "axis": null},
            "y": {"field": "t", "type": "quantitative", "scale": {"domain": [55, 95], "nice": false, "zero": false}, "axis": null}
          }
        },
        {
          "transform": [{"filter": "datum.s === 'Pillar, Λ=2.0μm'"}],
          "mark": {"type": "point", "shape": "square", "size": 200, "strokeWidth": 3.5, "filled": false, "color": "#FFB000", "opacity": 1},
          "encoding": {
            "x": {"field": "w", "type": "quantitative", "scale": {"domain": [0.5, 0.8], "nice": false, "zero": false}, "axis": null},
            "y": {"field": "t", "type": "quantitative", "scale": {"domain": [55, 95], "nice": false, "zero": false}, "axis": null}
          }
        },
        {
          "transform": [{"filter": "datum.s === 'Groove, Λ=1.5μm'"}],
          "mark": {"type": "point", "shape": "circle", "size": 225, "strokeWidth": 3, "filled": false, "color": "#0000FF", "opacity": 1},
          "encoding": {
            "x": {"field": "w", "type": "quantitative", "scale": {"domain": [0.5, 0.8], "nice": false, "zero": false}, "axis": null},
            "y": {"field": "t", "type": "quantitative", "scale": {"domain": [55, 95], "nice": false, "zero": false}, "axis": null}
          }
        },
        {
          "transform": [{"filter": "datum.s === 'Groove, Λ=2.0μm'"}],
          "mark": {"type": "point", "shape": "triangle-down", "size": 300, "strokeWidth": 3, "filled": false, "color": "#000000", "opacity": 1},
          "encoding": {
            "x": {"field": "w", "type": "quantitative", "scale": {"domain": [0.5, 0.8], "nice": false, "zero": false}, "axis": null},
            "y": {"field": "t", "type": "quantitative", "scale": {"domain": [55, 95], "nice": false, "zero": false}, "axis": null}
          }
        },
        {
          "transform": [{"filter": "datum.g === 'Pillar'"}],
          "mark": {"type": "point", "opacity": 0, "filled": false},
          "encoding": {
            "x": {"field": "w", "type": "quantitative", "scale": {"domain": [0.5, 0.8], "nice": false, "zero": false}, "axis": null},
            "y": {"field": "t", "type": "quantitative", "scale": {"domain": [55, 95], "nice": false, "zero": false}, "axis": null},
            "color": {"field": "s", "type": "nominal", "scale": {"domain": ["Pillar, Λ=1.5μm", "Pillar, Λ=2.0μm"], "range": ["#FF0000", "#FFB000"]},
                      "legend": {"orient": "none", "legendX": 51.7, "legendY": 3.5, "title": null, "symbolSize": 400, "symbolStrokeWidth": 3.5, "rowPadding": 1, "labelOffset": 68, "padding": 0, "labelFontSize": 23, "labelFont": "Liberation Sans", "labelColor": "#000000", "labelLimit": 400}},
            "shape": {"field": "s", "type": "nominal", "scale": {"domain": ["Pillar, Λ=1.5μm", "Pillar, Λ=2.0μm"], "range": ["M-1.2,0L7.5,0M3.15,-1L3.15,1M2.15,0L4.15,0M2.44,-0.71L3.86,0.71M2.44,0.71L3.86,-0.71", "M-1.2,0L7.5,0M2.35,-0.8L3.95,-0.8L3.95,0.8L2.35,0.8Z"]},
                      "legend": {"orient": "none", "legendX": 51.7, "legendY": 3.5, "title": null, "symbolSize": 400, "symbolStrokeWidth": 3.5, "rowPadding": 1, "labelOffset": 68, "padding": 0, "labelFontSize": 23, "labelFont": "Liberation Sans", "labelColor": "#000000", "labelLimit": 400}}
          }
        },
        {
          "transform": [{"filter": "datum.g === 'Groove'"}],
          "mark": {"type": "point", "opacity": 0, "filled": false},
          "encoding": {
            "x": {"field": "w", "type": "quantitative", "scale": {"domain": [0.5, 0.8], "nice": false, "zero": false}, "axis": null},
            "y": {"field": "t", "type": "quantitative", "scale": {"domain": [55, 95], "nice": false, "zero": false}, "axis": null},
            "color": {"field": "s", "type": "nominal", "scale": {"domain": ["Groove, Λ=1.5μm", "Groove, Λ=2.0μm"], "range": ["#0000FF", "#000000"]},
                      "legend": {"orient": "none", "legendX": 106.7, "legendY": 322.1, "title": null, "symbolSize": 400, "symbolStrokeWidth": 3.5, "rowPadding": 4.7, "labelOffset": 68, "padding": 0, "labelFontSize": 23, "labelFont": "Liberation Sans", "labelColor": "#000000", "labelLimit": 400}},
            "shape": {"field": "s", "type": "nominal", "scale": {"domain": ["Groove, Λ=1.5μm", "Groove, Λ=2.0μm"], "range": ["M-1.2,0L7.5,0M3.95,0A0.8,0.8,0,1,1,2.35,0A0.8,0.8,0,1,1,3.95,0Z", "M-1.2,0L7.5,0M3.15,0.74L4.0,-0.74L2.3,-0.74Z"]},
                      "legend": {"orient": "none", "legendX": 106.7, "legendY": 322.1, "title": null, "symbolSize": 400, "symbolStrokeWidth": 3.5, "rowPadding": 4.7, "labelOffset": 68, "padding": 0, "labelFontSize": 23, "labelFont": "Liberation Sans", "labelColor": "#000000", "labelLimit": 400}}
          }
        },
        {
          "mark": {"type": "point", "opacity": 0},
          "encoding": {
            "x": {"field": "w", "type": "quantitative", "scale": {"domain": [0.5, 0.8], "nice": false, "zero": false},
                  "axis": {"orient": "top", "title": null, "labels": false, "values": [0.5,0.525,0.55,0.575,0.6,0.625,0.65,0.675,0.7,0.725,0.75,0.775,0.8]}},
            "y": {"field": "t", "type": "quantitative", "scale": {"domain": [55, 95], "nice": false, "zero": false},
                  "axis": {"orient": "right", "title": null, "labels": false, "values": [57.5,60,62.5,65,67.5,70,72.5,75,77.5,80,82.5,85,87.5,90,92.5]}}
          }
        }
      ],
      "resolve": {"scale": {"color": "independent", "shape": "independent"}, "axis": {"x": "independent", "y": "independent"}}
    }
  ],
  "spacing": 130,
  "bounds": "flush",
  "config": {
    "font": "Liberation Sans",
    "view": {"stroke": "#262626", "strokeWidth": 2.5},
    "axis": {"domain": false, "grid": false, "tickSize": -5, "tickWidth": 1.5, "tickColor": "#262626", "labelFont": "Liberation Sans", "labelFontSize": 23, "labelColor": "#262626", "titleFont": "Liberation Sans", "titleFontSize": 25, "titleFontWeight": "normal", "titleColor": "#262626", "labelFlush": false, "labelOverlap": false, "labelBound": false}
  }
}
